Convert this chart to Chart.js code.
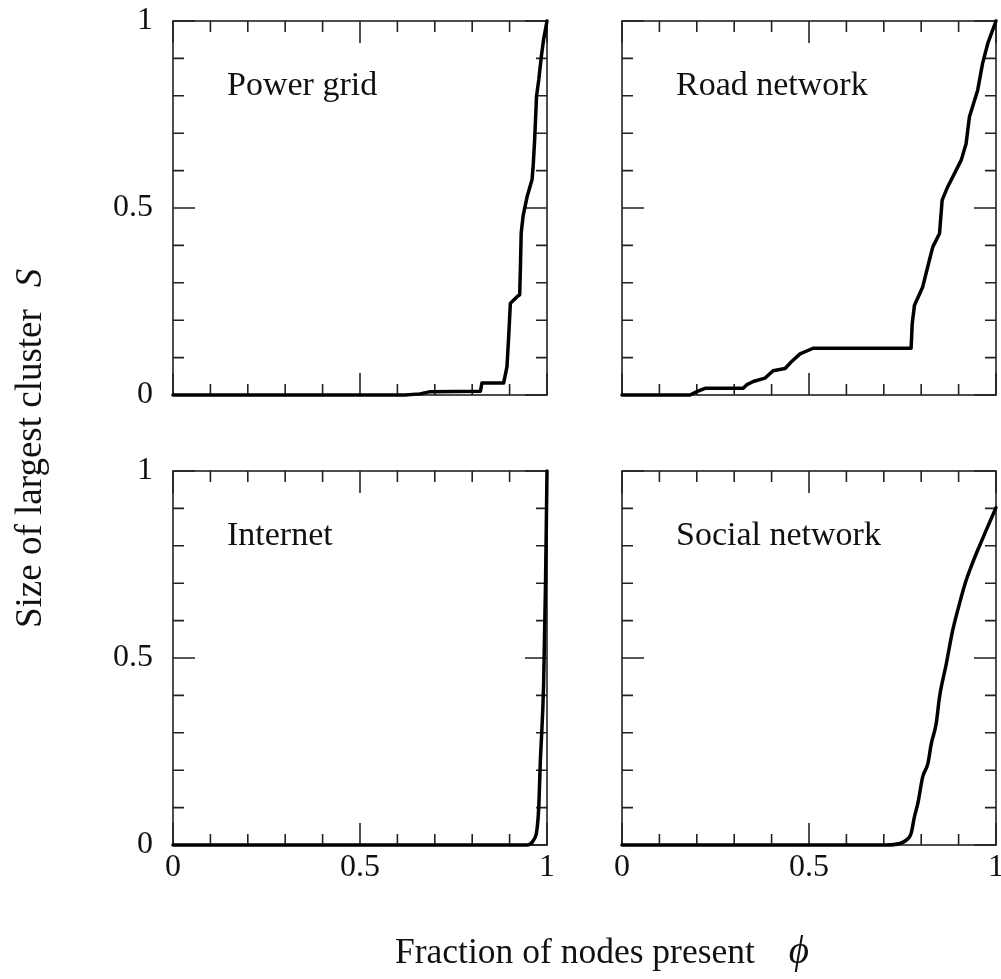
<!DOCTYPE html>
<html>
<head>
<meta charset="utf-8">
<script src="https://cdn.jsdelivr.net/npm/chart.js@4.4.1/dist/chart.umd.min.js"></script>
<style>
  body { margin: 0; background: #fff; }
  #wrap { position: relative; width: 1001px; height: 979px; overflow: hidden; }
  #wrap canvas { position: absolute; left: 0; top: 0; }
  .title { position: absolute; font-family: "Liberation Serif", "Times New Roman", serif; color: #111; white-space: nowrap; }
  .title i { margin-left: 22px; }
  #xtitle { left: 395px; top: 930px; font-size: 35.5px; line-height: 40px; }
  #xtitle i { margin-left: 34px; font-size: 1.1em; }
  #ytitle { left: 42px; top: 445px; font-size: 37px; transform-origin: 0 0; transform: translate(-35px, 183px) rotate(-90deg); }
</style>
</head>
<body>
<div id="wrap">
  <canvas id="c0" width="1001" height="979"></canvas>
  <canvas id="c1" width="1001" height="979"></canvas>
  <canvas id="c2" width="1001" height="979"></canvas>
  <canvas id="c3" width="1001" height="979"></canvas>
  <div class="title" id="xtitle">Fraction of nodes present<i>&#x3D5;</i></div>
  <div class="title" id="ytitle">Size of largest cluster<i>S</i></div>
</div>
<script>
// fraction of nodes present (phi) and size of largest cluster (S)
const powerGridPhi = [0, 0.62, 0.66, 0.688, 0.822, 0.826, 0.833, 0.884, 0.893, 0.898, 0.902, 0.911, 0.920, 0.927, 0.929, 0.931, 0.936, 0.947, 0.960, 0.963, 0.967, 0.972, 0.978, 0.985, 0.991, 1.0];
const powerGridS   = [0, 0, 0.003, 0.009, 0.010, 0.032, 0.032, 0.032, 0.076, 0.165, 0.245, 0.254, 0.263, 0.268, 0.344, 0.433, 0.478, 0.531, 0.576, 0.612, 0.683, 0.799, 0.843, 0.906, 0.951, 1.0];

const roadPhi = [0, 0.182, 0.2, 0.222, 0.324, 0.333, 0.351, 0.382, 0.404, 0.436, 0.453, 0.476, 0.511, 0.773, 0.776, 0.782, 0.804, 0.822, 0.831, 0.849, 0.856, 0.871, 0.907, 0.92, 0.929, 0.951, 0.964, 0.978, 1.0];
const roadS   = [0, 0, 0.009, 0.018, 0.018, 0.027, 0.036, 0.045, 0.065, 0.071, 0.089, 0.11, 0.125, 0.125, 0.191, 0.24, 0.289, 0.361, 0.396, 0.432, 0.521, 0.557, 0.628, 0.672, 0.744, 0.815, 0.886, 0.94, 1.0];

const internetPhi = [0, 0.946, 0.964, 0.973, 0.978, 0.982, 0.991, 0.996, 1.0];
const internetS   = [0, 0, 0.013, 0.04, 0.102, 0.218, 0.431, 0.698, 1.0];

const socialPhi = [0, 0.707, 0.742, 0.76, 0.773, 0.782, 0.791, 0.804, 0.818, 0.827, 0.84, 0.849, 0.867, 0.884, 0.902, 0.92, 0.938, 0.956, 0.973, 1.0];
const socialS   = [0, 0, 0.004, 0.013, 0.031, 0.076, 0.111, 0.182, 0.218, 0.271, 0.324, 0.396, 0.484, 0.573, 0.644, 0.707, 0.756, 0.8, 0.84, 0.902];

const tickLabels = ['0', '0.5', '1'];

const W = 1001, H = 979, SIZE = 374;
const panels = [
  { name: 'Power grid',     phi: powerGridPhi, s: powerGridS,  left: 173, top: 21,  xLabels: false, yLabels: true,  smooth: false },
  { name: 'Road network',   phi: roadPhi,      s: roadS,       left: 622, top: 21,  xLabels: false, yLabels: false, smooth: false },
  { name: 'Internet',       phi: internetPhi,  s: internetS,   left: 173, top: 471, xLabels: true,  yLabels: true,  smooth: true },
  { name: 'Social network', phi: socialPhi,    s: socialS,     left: 622, top: 471, xLabels: true,  yLabels: false, smooth: true },
];

const FONT = '"Liberation Serif", "Times New Roman", serif';
const isMajor = v => Math.abs(v * 2 - Math.round(v * 2)) < 1e-6;

// frame, inward ticks on all four sides, and the panel name
const framePlugin = {
  id: 'frame',
  beforeDatasetsDraw(chart) {
    const { ctx, chartArea: a, scales } = chart;
    ctx.save();
    ctx.strokeStyle = '#222';
    ctx.lineWidth = 1.6;
    ctx.strokeRect(a.left, a.top, a.right - a.left, a.bottom - a.top);
    ctx.beginPath();
    scales.x.ticks.forEach(t => {
      const px = scales.x.getPixelForValue(t.value);
      const len = isMajor(t.value) ? 22 : 11;
      ctx.moveTo(px, a.bottom); ctx.lineTo(px, a.bottom - len);
      ctx.moveTo(px, a.top); ctx.lineTo(px, a.top + len);
    });
    scales.y.ticks.forEach(t => {
      const py = scales.y.getPixelForValue(t.value);
      const len = isMajor(t.value) ? 22 : 11;
      ctx.moveTo(a.left, py); ctx.lineTo(a.left + len, py);
      ctx.moveTo(a.right, py); ctx.lineTo(a.right - len, py);
    });
    ctx.stroke();
    ctx.fillStyle = '#111';
    ctx.font = '34px ' + FONT;
    ctx.textBaseline = 'alphabetic';
    ctx.fillText(chart.options.plugins.frame.label, a.left + 54, a.top + 74);
    ctx.restore();
  }
};

function fixSize(prop, size) {
  return scale => {
    scale[prop] = size;
    scale.paddingTop = 0; scale.paddingBottom = 0;
    scale.paddingLeft = 0; scale.paddingRight = 0;
  };
}

function tickLabel(v) {
  if (!isMajor(v)) return '';
  return tickLabels[Math.round(v * 2)];
}

panels.forEach((p, i) => {
  const points = p.phi.map((x, k) => ({ x: x, y: p.s[k] }));
  new Chart(document.getElementById('c' + i), {
    type: 'line',
    data: {
      datasets: [{
        data: points,
        borderColor: '#000',
        borderWidth: 3.5,
        pointRadius: 0,
        fill: false,
        clip: false,
        tension: 0,
        cubicInterpolationMode: p.smooth ? 'monotone' : 'default',
        borderJoinStyle: 'round',
        borderCapStyle: 'round',
      }],
    },
    options: {
      responsive: false,
      animation: false,
      devicePixelRatio: 1,
      events: [],
      layout: {
        padding: {
          left: p.left - 60,
          top: p.top,
          right: W - (p.left + SIZE),
          bottom: H - (p.top + SIZE) - 50,
        },
      },
      plugins: {
        legend: { display: false },
        tooltip: { enabled: false },
        frame: { label: p.name },
      },
      scales: {
        x: {
          type: 'linear',
          min: 0,
          max: 1,
          grid: { display: false, drawTicks: false },
          border: { display: false },
          ticks: {
            display: p.xLabels,
            stepSize: 0.1,
            autoSkip: false,
            maxRotation: 0,
            padding: 3,
            color: '#111',
            font: { family: FONT, size: 32 },
            callback: tickLabel,
          },
          afterFit: fixSize('height', 50),
        },
        y: {
          type: 'linear',
          min: 0,
          max: 1,
          grid: { display: false, drawTicks: false },
          border: { display: false },
          ticks: {
            display: p.yLabels,
            stepSize: 0.1,
            autoSkip: false,
            padding: 20,
            color: '#111',
            font: { family: FONT, size: 32 },
            callback: tickLabel,
          },
          afterFit: fixSize('width', 60),
        },
      },
    },
    plugins: [framePlugin],
  });
});
</script>
</body>
</html>
